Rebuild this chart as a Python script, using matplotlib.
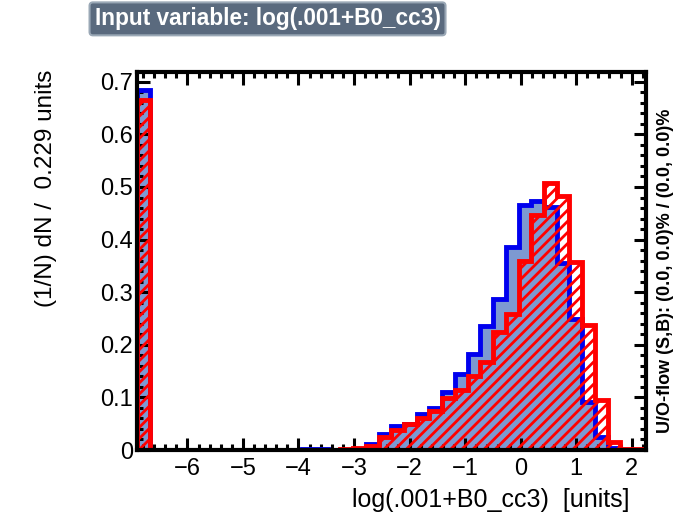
import matplotlib
matplotlib.use("Agg")
import matplotlib.pyplot as plt
from matplotlib.ticker import MultipleLocator
import numpy as np

plt.rcParams['font.family'] = ['Liberation Sans', 'DejaVu Sans']
plt.rcParams['hatch.linewidth'] = 2.0

# histogram binning (40 bins of 0.229 starting at log(0.001))
x_min = -6.908
bin_width = 0.229
n_bins = 40

signal = [0.685, 0, 0, 0, 0, 0, 0, 0, 0, 0,
          0, 0, 0, 0.002, 0.002, 0, 0, 0.002, 0.012, 0.030,
          0.045, 0.050, 0.069, 0.080, 0.110, 0.145, 0.182, 0.235, 0.288, 0.386,
          0.465, 0.473, 0.462, 0.355, 0.250, 0.092, 0.025, 0.003, 0, 0]
background = [0.665, 0, 0, 0, 0, 0, 0, 0, 0, 0,
              0, 0, 0, 0, 0, 0, 0.001, 0.003, 0.008, 0.024,
              0.038, 0.050, 0.060, 0.075, 0.098, 0.115, 0.140, 0.167, 0.225, 0.259,
              0.360, 0.446, 0.507, 0.483, 0.357, 0.237, 0.095, 0.015, 0.002, 0.001]

title = "Input variable: log(.001+B0_cc3)"
x_label = "log(.001+B0_cc3)  [units]"
y_label = "(1/N) dN /  0.229 units"
flow_text = "U/O-flow (S,B): (0.0, 0.0)% / (0.0, 0.0)%"

edges = x_min + bin_width * np.arange(n_bins + 1)

fig = plt.figure(figsize=(6.85, 5.24), dpi=100)
ax = fig.add_axes([0.2, 0.1412, 0.7426, 0.7214])

ax.stairs(signal, edges, fill=True, color='#7d99d1', zorder=1)
ax.stairs(signal, edges, color='#0000ee', linewidth=3.5, zorder=2)
ax.stairs(background, edges, fill=True, facecolor='none', edgecolor='red',
          hatch='///', linewidth=0, zorder=3)
ax.stairs(background, edges, color='red', linewidth=3.5, zorder=4)

ax.set_xlim(edges[0], edges[-1])
ax.set_ylim(0, 0.7186)

ax.xaxis.set_minor_locator(MultipleLocator(0.2))
ax.yaxis.set_minor_locator(MultipleLocator(0.02))
ax.tick_params(which='both', direction='in', top=True, right=True, width=2.2,
               labelsize=17)
ax.tick_params(axis='y', pad=3)
ax.tick_params(axis='x', pad=6)
ax.tick_params(which='major', length=9)
ax.tick_params(which='minor', length=4.5)
ax.set_yticks(np.arange(0, 0.71, 0.1))
ax.set_yticklabels(['0', '0.1', '0.2', '0.3', '0.4', '0.5', '0.6', '0.7'])
ax.set_xticks(np.arange(-6, 3, 1))
ax.set_xticklabels(['\u22126', '\u22125', '\u22124', '\u22123', '\u22122', '\u22121', '0', '1', '2'])
for s in ax.spines.values():
    s.set_linewidth(3)
    s.set_zorder(10)

ax.set_xlabel(x_label, fontsize=18, ha='right', va='top')
ax.xaxis.set_label_coords(0.969, -0.10)
ax.set_ylabel(y_label, fontsize=17.5, ha='center', va='bottom')
ax.yaxis.set_label_coords(-0.158, 0.693)

fig.text(0.971, 0.483, flow_text, rotation=90, fontsize=13, fontweight='bold',
         ha='center', va='center')

fig.text(0.138, 0.964, title, fontsize=16.3, fontweight='bold', color='white',
         ha='left', va='center',
         bbox=dict(boxstyle='round,pad=0.22,rounding_size=0.15',
                   facecolor='#5a6a7e', edgecolor='#9aa8b6', linewidth=1.5))

fig.savefig('out.png', dpi=100)
